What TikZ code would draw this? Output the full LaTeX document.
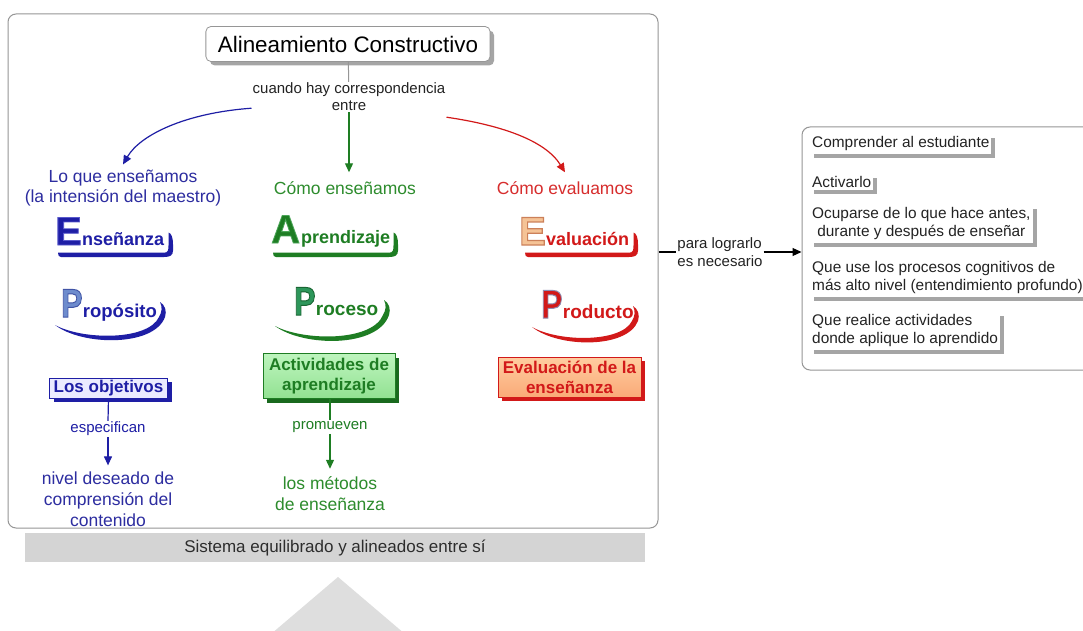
\documentclass[tikz,border=0pt]{standalone}
\usepackage{fontspec}
\setmainfont{Liberation Sans}
\usetikzlibrary{arrows.meta,shadows,calc}
\definecolor{cblue}{RGB}{30,30,165}
\definecolor{cbluet}{RGB}{45,45,160}
\definecolor{cpblue}{RGB}{110,140,205}
\definecolor{cgreen}{RGB}{30,125,35}
\definecolor{cgreent}{RGB}{45,140,45}
\definecolor{cpgreen}{RGB}{45,150,90}
\definecolor{cred}{RGB}{210,25,25}
\definecolor{credt}{RGB}{215,45,45}
\definecolor{corange}{RGB}{245,195,150}
\definecolor{cgreenbox}{RGB}{190,245,190}
\definecolor{cgreenbox2}{RGB}{145,225,145}
\definecolor{cbluebox}{RGB}{235,235,255}
\definecolor{corangebox}{RGB}{255,205,160}
\definecolor{corangebox2}{RGB}{250,170,120}
\definecolor{cframe}{RGB}{150,150,150}
\definecolor{cshadow}{RGB}{165,165,165}
\definecolor{ctext}{RGB}{35,35,35}
\definecolor{cbar}{RGB}{212,212,212}
\definecolor{ctri}{RGB}{222,222,222}
\definecolor{cbartext}{RGB}{45,45,45}
\definecolor{cgshadow}{RGB}{25,105,30}
\newcommand\fsz[2]{\fontsize{#1}{#2}\selectfont}
% outlined glyph: stroke rgb, stroke width, text
\newcommand\outl[3]{\special{pdf:literal direct #2 w #1 RG 2 Tr}#3\special{pdf:literal direct 0 Tr}}
% underline with bracket: xl, xr, y, colour
\newcommand\ubr[4]{%
  \fill[#4] (#1,#3-1.8) -- ({#2-7},#3-1.8) .. controls ({#2-3},#3-1.8) and ({#2-2.5},#3-4) .. ({#2-2.5},#3-9)
    -- ({#2-2.5},#3-22) .. controls ({#2+0.5},#3-21) and ({#2+2},#3-17) .. ({#2+2},#3-10)
    -- ({#2+2},#3-4) .. controls ({#2+2},#3+1) and ({#2-1},#3+2.5) .. ({#2-7},#3+2.5)
    -- ({#1+3},#3+2.5) .. controls ({#1+1},#3+2.5) and (#1,#3+1) .. (#1,#3-1.8) -- cycle;}
% crescent: xl, yl, xr, ytop, colour
\newcommand\cres[5]{%
  \fill[#5] (#1,#2) .. controls ({#1+0.25*(#3-#1)},#2+21) and ({#3-10},#2+22) .. ({#3+1},#4+15)
    .. controls ({#3+3},#4+9) and ({#3+1},#4+3) .. ({#3-4},#4)
    .. controls ({#3-1.5},#4+5) and ({#3-2},#4+10) .. ({#3-5},#4+15)
    .. controls ({#3-16},#2+16) and ({#1+0.25*(#3-#1)},#2+15) .. (#1,#2) -- cycle;}
\begin{document}
\begin{tikzpicture}[x=1pt,y=-1pt,
  lbl/.style={inner sep=1pt, align=center, text=ctext, font=\fsz{15}{17}},
  head/.style={inner sep=1pt, align=center, font=\fsz{17.5}{20.5}},
  biglet/.style={anchor=base west, inner sep=0pt, font=\bfseries\fsz{40}{40}},
  smlet/.style={anchor=base west, inner sep=0pt, font=\bfseries\fsz{18}{18}},
  cbox/.style={font=\bfseries\fsz{17}{20}, align=center, inner xsep=3pt, inner ysep=2pt, line width=0.8pt},
  item/.style={anchor=west, fill=white, inner xsep=2pt, inner ysep=2.5pt, text=ctext, font=\fsz{15.4}{18},
    drop shadow={opacity=1, fill=cshadow, shadow xshift=4pt, shadow yshift=-4pt}},
  conn/.style={line width=1.2pt},
  arr/.style={line width=1.2pt, -{Triangle[length=9pt,width=8pt]}},
]
\useasboundingbox (0,0) rectangle (1083,631);
\clip (0,0) rectangle (1083,631);
\fill[white] (0,0) rectangle (1083,631);

% balance base
\fill[ctri] (338,577) -- (412,640) -- (264,640) -- cycle;
\node[fill=cbar, minimum width=620pt, minimum height=29pt, inner sep=0pt, text=cbartext, font=\fsz{17}{17}] (bar) at (335,547.5) {Sistema equilibrado y alineados entre sí};

% main frame
\node[draw=cframe, line width=1pt, rounded corners=8pt, fill=white, minimum width=650pt, minimum height=514pt, inner sep=0pt] (mainbox) at (333,271) {};

% title
\node[draw=cframe, fill=white, rounded corners=5pt, line width=0.8pt, inner xsep=12pt, minimum height=35pt, font=\fsz{22.4}{24},
  drop shadow={opacity=1, fill=cshadow, shadow xshift=4pt, shadow yshift=-4pt}] (title) at (348,44) {Alineamiento Constructivo};
\node[lbl] (cuando) at (349,97) {cuando hay correspondencia\\entre};
\draw[line width=1pt, cframe] (title) -- (cuando);

% column headings
\node[head, text=cbluet] (loque) at (123,188) {Lo que enseñamos\\(la intensión del maestro)};
\node[head, text=cgreent] (como1) at (345,188) {Cómo enseñamos};
\node[head, text=credt] (como2) at (565,188) {Cómo evaluamos};

\draw[arr, cblue] ([yshift=4pt]cuando.south west) .. controls (185,113) and (140,135) .. ([yshift=4pt]loque.north);
\draw[arr, cgreen] (cuando.south) -- ([yshift=8pt]cuando.south |- como1.north);
\draw[arr, cred] ([yshift=-5pt]cuando.south east) .. controls (500,125) and (545,140) .. ([yshift=8pt]como2.north);

% Enseñanza
\ubr{58}{171}{254.5}{cblue}
\node[biglet, text=cblue] (ensE) at (55,245) {\outl{0.35 0.35 0.8}{0.8}{E}};
\node[smlet, text=cblue] (ensT) at (82,245) {nseñanza};
% Aprendizaje
\ubr{273}{396}{254.5}{cgreen}
\node[biglet, text=cgreen] (aprA) at (271,243) {\outl{0.3 0.65 0.35}{0.8}{A}};
\node[smlet, text=cgreen] (aprT) at (301,243) {prendizaje};
% Evaluación
\ubr{525}{636}{254.5}{cred}
\node[biglet, text=corange] (evE) at (519,245) {\outl{0.8 0.5 0.35}{1.2}{E}};
\node[smlet, text=cred] (evT) at (546,245) {valuación};

% Propósito
\cres{55}{325}{164}{302}{cblue}
\node[biglet, text=cpblue] (prP) at (61,317) {\scalebox{0.8}[1]{\outl{0.25 0.33 0.65}{1.0}{P}}};
\node[smlet, text=cblue, font=\bfseries\fsz{18.5}{19}] (prT) at (prP.base east) {ropósito};
% Proceso
\cres{275}{326}{388}{300}{cgreen}
\node[biglet, text=cpgreen] (pcP) at (294,315) {\scalebox{0.8}[1]{\outl{0.1 0.4 0.2}{1.0}{P}}};
\node[smlet, text=cgreen, font=\bfseries\fsz{19}{19}] (pcT) at (pcP.base east) {roceso};
% Producto
\cres{532}{327}{637}{306}{cred}
\node[biglet, text=cred] (pdP) at (541,318) {\scalebox{0.8}[1]{\outl{0.55 0.55 0.7}{1.0}{P}}};
\node[smlet, text=cred, font=\bfseries\fsz{19}{19}] (pdT) at (pdP.base east) {roducto};

% boxes
\node[cbox, draw=cblue, fill=cbluebox, text=cblue, minimum width=118pt, minimum height=20pt,
  drop shadow={opacity=1, fill=cblue, shadow xshift=4pt, shadow yshift=-4pt}] (obj) at (108.5,388) {Los objetivos};
\node[cbox, draw=cgreen, top color=cgreenbox, bottom color=cgreenbox2, text=cgreen, minimum width=132pt, minimum height=45pt,
  drop shadow={opacity=1, fill=cgshadow, shadow xshift=4pt, shadow yshift=-4pt}] (act) at (329,376) {Actividades de\\aprendizaje};
\node[cbox, draw=cred, top color=corangebox, bottom color=corangebox2, text=cred, minimum width=143pt, minimum height=40pt,
  drop shadow={opacity=1, fill=cred, shadow xshift=4pt, shadow yshift=-4pt}] (evb) at (569.5,377) {Evaluación de la\\enseñanza};

% blue column bottom
\node[lbl, text=cblue] (esp) at (108,429) {especifican};
\node[head, text=cbluet, font=\fsz{17.5}{21}] (niv) at (108,499) {nivel deseado de\\comprensión del\\contenido};
\draw[conn, cblue] (obj.south) -- (esp.north);
\draw[arr, cblue] (esp.south) -- ([yshift=5pt]niv.north);
% green column bottom
\node[lbl, text=cgreen] (prom) at (330,427) {promueven};
\node[head, text=cgreent, font=\fsz{17.5}{21}] (met) at (330,494) {los métodos\\de enseñanza};
\draw[conn, cgreen] (act.south -| prom.north) -- (prom.north);
\draw[arr, cgreen] (prom.south) -- ([yshift=7pt]met.north);

% right panel
\node[draw=cframe, line width=1pt, rounded corners=8pt, fill=white, minimum width=298pt, minimum height=243pt, inner sep=0pt] (rbox) at (951,248.5) {};
\node[item] (it1) at (810,144) {Comprender al estudiante};
\node[item] (it2) at (810,182) {Activarlo};
\node[item, align=center] (it3) at (810,224) {Ocuparse de lo que hace antes,\\durante y después de enseñar};
\node[item, align=left] (it4) at (810,278) {Que use los procesos cognitivos de\\más alto nivel (entendimiento profundo)};
\node[item, align=left] (it5) at (810,331) {Que realice actividades\\donde aplique lo aprendido};

\node[lbl, align=left, font=\fsz{15}{18}] (para) at (720,252) {para lograrlo\\es necesario};
\draw[conn, black] (mainbox.east |- para.west) -- (para.west);
\draw[arr, black] (para.east) -- (rbox.west |- para.east);
\end{tikzpicture}
\end{document}
